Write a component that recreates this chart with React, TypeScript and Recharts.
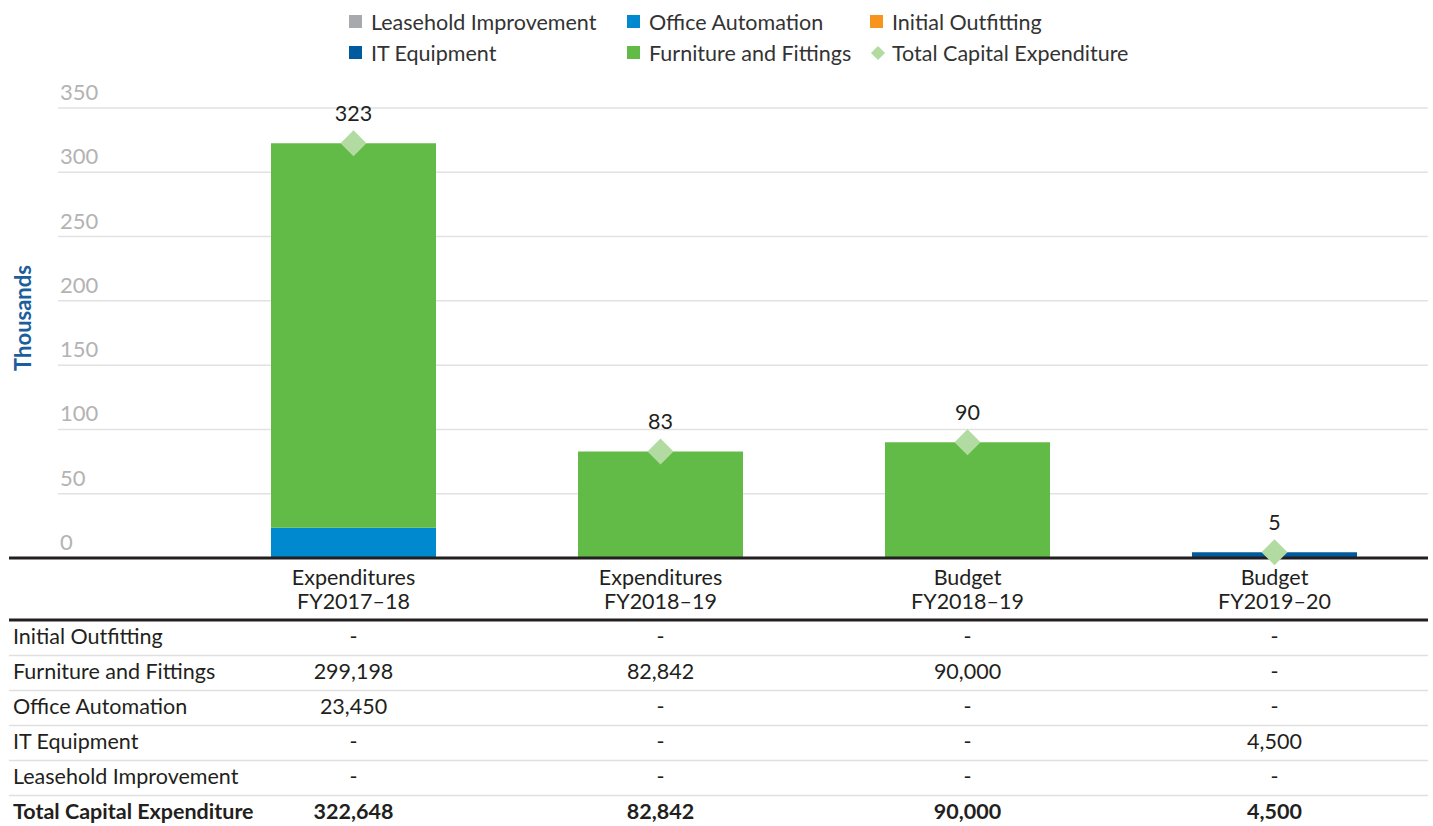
import { ComposedChart, Bar, Scatter, XAxis, YAxis, CartesianGrid } from "recharts";

// categories (two-line header)
const categoryTop = ["Expenditures", "Expenditures", "Budget", "Budget"];
const categoryBottom = ["FY2017–18", "FY2018–19", "FY2018–19", "FY2019–20"];

// series values (dollars)
const initialOutfitting = [0, 0, 0, 0];
const furnitureFittings = [299198, 82842, 90000, 0];
const officeAutomation = [23450, 0, 0, 0];
const itEquipment = [0, 0, 0, 4500];
const leaseholdImprovement = [0, 0, 0, 0];
const totalCapex = [322648, 82842, 90000, 4500];

const yTicks = [0, 50, 100, 150, 200, 250, 300, 350];

const COLORS = {
  leasehold: "#a7a9ac",
  office: "#0089cf",
  initial: "#f7941d",
  it: "#005b9e",
  furniture: "#62bb46",
  total: "#b2dba1",
};

// table rows, in the order shown under the chart
const tableRows = [
  { name: "Initial Outfitting", values: initialOutfitting },
  { name: "Furniture and Fittings", values: furnitureFittings },
  { name: "Office Automation", values: officeAutomation },
  { name: "IT Equipment", values: itEquipment },
  { name: "Leasehold Improvement", values: leaseholdImprovement },
  { name: "Total Capital Expenditure", values: totalCapex, bold: true },
];

const legendItems = [
  { name: "Leasehold Improvement", color: COLORS.leasehold },
  { name: "Office Automation", color: COLORS.office },
  { name: "Initial Outfitting", color: COLORS.initial },
  { name: "IT Equipment", color: COLORS.it },
  { name: "Furniture and Fittings", color: COLORS.furniture },
  { name: "Total Capital Expenditure", color: COLORS.total, diamond: true },
];

const data = categoryTop.map((top, i) => ({
  cat: `${top} ${categoryBottom[i]}`,
  it: itEquipment[i] / 1000,
  office: officeAutomation[i] / 1000,
  furniture: furnitureFittings[i] / 1000,
  initial: initialOutfitting[i] / 1000,
  leasehold: leaseholdImprovement[i] / 1000,
  total: totalCapex[i] / 1000,
  totalLabel: String(Math.round(totalCapex[i] / 1000)),
}));

const FONT = "Lato, 'Open Sans', sans-serif";
const FS = 21.5;
const W = 1433;
const H = 826;
const PLOT_LEFT = 200;
const PLOT_RIGHT = 1428;
const AXIS_Y = 558;
const HALF_BAND = (PLOT_RIGHT - PLOT_LEFT) / categoryTop.length / 2;
const TEXT = "#231f20";

const fmt = (v: number) => (v === 0 ? "-" : v.toLocaleString("en-US"));

const YTick = ({ y, payload }: any) => (
  <g>
    {payload.value !== 0 && (
      <line x1={58} x2={PLOT_LEFT} y1={y} y2={y} stroke="#e2e2e2" strokeWidth={1.5} />
    )}
    <text x={60} y={y - 8} fill="#b3b3b3" fontSize={22} fontFamily={FONT}>
      {payload.value}
    </text>
  </g>
);

const XTick = ({ x, index }: any) => {
  const left = index === 0 ? 9 : x - HALF_BAND;
  const right = x + HALF_BAND;
  return (
    <g fontFamily={FONT} fontSize={FS} fill={TEXT}>
      {index === 0 && (
        <line x1={9} x2={PLOT_LEFT} y1={AXIS_Y} y2={AXIS_Y} stroke={TEXT} strokeWidth={3} />
      )}
      <text x={x} y={585} textAnchor="middle">{categoryTop[index]}</text>
      <text x={x} y={609} textAnchor="middle">{categoryBottom[index]}</text>
      <line x1={left} x2={right} y1={620} y2={620} stroke={TEXT} strokeWidth={3} />
      {tableRows.map((row, r) => (
        <g key={row.name}>
          {r < tableRows.length - 1 && (
            <line x1={left} x2={right} y1={655.5 + r * 35} y2={655.5 + r * 35} stroke="#e0e0e0" strokeWidth={1.5} />
          )}
          {index === 0 && (
            <text x={13} y={644 + r * 35} fontWeight={row.bold ? 700 : 400}>{row.name}</text>
          )}
          <text x={x} y={644 + r * 35} textAnchor="middle" fontWeight={row.bold ? 700 : 400}>
            {fmt(row.values[index])}
          </text>
        </g>
      ))}
    </g>
  );
};

const Diamond = ({ cx, cy, payload }: any) => {
  const s = 13;
  return (
    <g>
      <polygon
        points={`${cx},${cy - s} ${cx + s},${cy} ${cx},${cy + s} ${cx - s},${cy}`}
        fill={COLORS.total}
      />
      <text x={cx} y={cy - 22} textAnchor="middle" fontSize={FS} fontFamily={FONT} fill={TEXT}>
        {payload.totalLabel}
      </text>
    </g>
  );
};

const YLabel = () => (
  <text
    x={31}
    y={318}
    transform="rotate(-90 31 318)"
    textAnchor="middle"
    fill="#1b5e9b"
    fontWeight={700}
    fontSize={22}
    fontFamily={FONT}
  >
    Thousands
  </text>
);

export default function App() {
  return (
    <div style={{ position: "absolute", left: 0, top: 0, width: W, height: H, background: "#fff", fontFamily: FONT }}>
      <div
        style={{
          position: "absolute",
          left: 349,
          top: 9,
          display: "grid",
          gridTemplateColumns: "278px 243px 290px",
          rowGap: 6,
          fontSize: FS,
          color: "#333",
        }}
      >
        {legendItems.map((item) => (
          <div key={item.name} style={{ display: "flex", alignItems: "center", height: 25 }}>
            {item.diamond ? (
              <span
                style={{
                  width: 10,
                  height: 10,
                  background: item.color,
                  transform: "rotate(45deg)",
                  margin: "0 9px 0 3px",
                }}
              />
            ) : (
              <span style={{ width: 13, height: 13, background: item.color, marginRight: 9 }} />
            )}
            <span>{item.name}</span>
          </div>
        ))}
      </div>
      <ComposedChart
        width={W}
        height={H}
        data={data}
        margin={{ top: 108, right: W - PLOT_RIGHT, bottom: 0, left: 10 }}
      >
        <CartesianGrid vertical={false} stroke="#e2e2e2" strokeWidth={1.5} />
        <XAxis
          dataKey="cat"
          height={H - AXIS_Y}
          interval={0}
          tickLine={false}
          axisLine={{ stroke: TEXT, strokeWidth: 3 }}
          tick={<XTick />}
        />
        <YAxis
          width={PLOT_LEFT - 10}
          domain={[0, 350]}
          ticks={yTicks}
          axisLine={false}
          tickLine={false}
          tick={<YTick />}
          label={<YLabel />}
        />
        <Bar dataKey="it" stackId="a" fill={COLORS.it} barSize={165} isAnimationActive={false} />
        <Bar dataKey="office" stackId="a" fill={COLORS.office} barSize={165} isAnimationActive={false} />
        <Bar dataKey="furniture" stackId="a" fill={COLORS.furniture} barSize={165} isAnimationActive={false} />
        <Bar dataKey="initial" stackId="a" fill={COLORS.initial} barSize={165} isAnimationActive={false} />
        <Bar dataKey="leasehold" stackId="a" fill={COLORS.leasehold} barSize={165} isAnimationActive={false} />
        <Scatter dataKey="total" shape={<Diamond />} isAnimationActive={false} />
      </ComposedChart>
    </div>
  );
}
